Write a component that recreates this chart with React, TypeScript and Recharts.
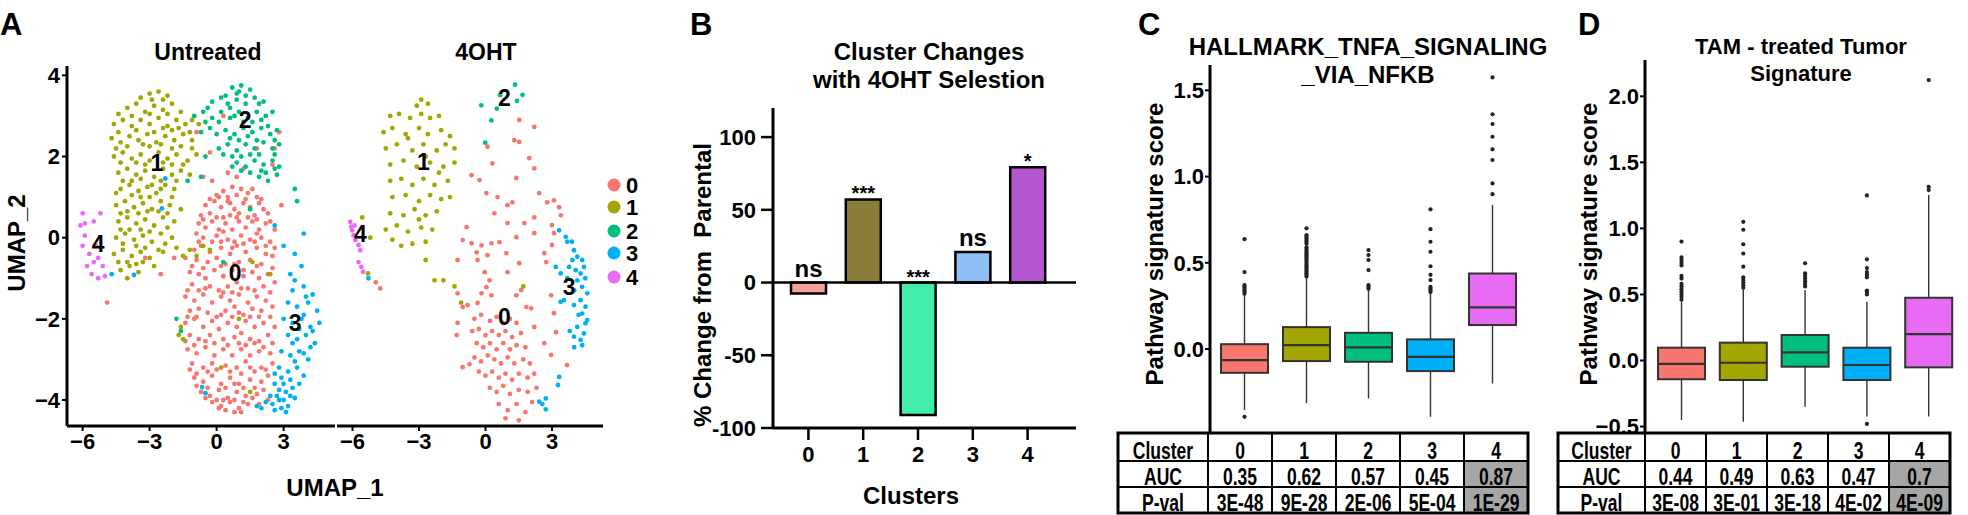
import React from 'react';
import {
  ScatterChart, Scatter, XAxis, YAxis, BarChart, Bar, Cell, LabelList,
  ReferenceLine, ComposedChart,
} from 'recharts';

// ---------- shared ----------
const clusterNames = ['0', '1', '2', '3', '4'];
const clusterColors = ['#F8766D', '#A3A500', '#00BF7D', '#00B0F6', '#E76BF3'];
const FONT = "'Liberation Sans', Arial, Helvetica, sans-serif";
const minus = (v: number | string) => String(v).replace('-', '\u2212');

// ---------- panel A: UMAP coordinates ----------
const untreated0 = [
  [0.3,1.15],[0.7,1.25],[1.1,1.2],[1.4,1.1],[0.0,1.05],[0.9,1.05],[1.8,1.0],[0.5,1.0],[1.6,1.2],
  [-0.3,0.95],[0.1,1.0],[0.6,0.85],[1.3,0.95],[2.0,0.95],
  [-0.5,0.8],[-0.1,0.9],[0.2,0.75],[0.5,0.9],[0.8,0.7],[1.2,0.85],[1.5,0.75],[1.9,0.85],[2.1,0.7],[-0.3,0.6],[0.6,0.55],[1.0,0.6],[1.7,0.55],[2.3,0.6],[-0.7,0.55],
  [-0.6,0.45],[0.0,0.5],[0.3,0.5],[0.9,0.5],[1.4,0.5],[1.8,0.45],[2.4,0.4],
  [-0.8,0.35],[-0.5,0.25],[-0.2,0.4],[0.1,0.2],[0.4,0.35],[0.7,0.2],[1.0,0.4],[1.3,0.25],[1.6,0.4],[1.9,0.2],[2.2,0.35],[-0.6,0.0],[0.0,0.05],[0.5,-0.05],[1.1,0.05],[1.5,-0.05],[2.0,0.0],[2.4,-0.1],[-0.9,0.1],[0.3,0.15],[0.8,-0.1],[1.8,0.1],[2.6,0.2],
  [-0.8,-0.1],[0.2,-0.1],[0.7,-0.25],[1.2,-0.15],[1.7,-0.1],[2.2,-0.2],[2.6,-0.25],
  [-1.0,-0.3],[-0.7,-0.2],[-0.3,-0.35],[0.2,-0.25],[0.6,-0.4],[0.9,-0.2],[1.3,-0.35],[1.8,-0.25],[2.2,-0.4],[-0.9,-0.55],[-0.4,-0.6],[0.0,-0.5],[0.4,-0.65],[1.0,-0.6],[1.5,-0.55],[2.0,-0.65],[2.5,-0.45],[-0.2,-0.1],[1.2,-0.8],
  [-1.1,-0.7],[-0.6,-0.75],[0.2,-0.7],[0.8,-0.65],[1.8,-0.7],[2.5,-0.75],
  [-1.2,-0.85],[-0.8,-0.9],[-0.5,-1.0],[-0.1,-0.8],[0.3,-0.95],[0.7,-0.8],[1.2,-0.95],[1.6,-0.85],[1.9,-1.0],[2.3,-0.9],[-1.1,-1.15],[-0.3,-1.2],[0.5,-1.2],[0.9,-1.1],[1.4,-1.25],[2.1,-1.2],[2.6,-1.1],[0.1,-1.3],
  [-1.3,-1.3],[-0.8,-1.3],[-0.5,-1.25],[0.3,-1.35],[0.7,-1.35],[1.1,-1.25],[1.7,-1.3],[2.4,-1.35],
  [-1.4,-1.45],[-1.0,-1.55],[-0.6,-1.4],[-0.2,-1.6],[0.2,-1.45],[0.6,-1.55],[1.0,-1.4],[1.4,-1.6],[1.8,-1.45],[2.2,-1.55],[-1.2,-1.8],[-0.4,-1.85],[0.4,-1.8],[1.2,-1.9],[2.0,-1.8],[-0.8,-1.75],[1.6,-1.75],[0.8,-1.7],[2.5,-1.7],[0.0,-1.95],
  [-1.3,-1.95],[-0.9,-1.95],[0.2,-1.9],[0.7,-1.95],[1.0,-1.85],[1.5,-1.95],[1.9,-1.95],[2.4,-1.95],
  [-1.4,-2.1],[-1.0,-2.0],[-0.6,-2.2],[-0.2,-2.05],[0.1,-2.25],[0.5,-2.1],[0.9,-2.2],[1.3,-2.05],[1.7,-2.2],[2.1,-2.1],[-1.2,-2.4],[-0.8,-2.5],[-0.3,-2.4],[0.3,-2.5],[0.8,-2.45],[1.5,-2.5],[2.3,-2.4],[1.9,-2.55],[1.1,-2.35],[-0.1,-2.6],[2.6,-2.2],
  [-1.4,-2.55],[-1.0,-2.65],[-0.5,-2.55],[0.5,-2.65],[1.0,-2.6],[1.3,-2.65],[1.7,-2.6],[2.1,-2.7],[2.5,-2.6],
  [-1.3,-2.75],[-0.9,-2.85],[-0.5,-2.7],[-0.1,-2.9],[0.3,-2.75],[0.7,-2.9],[1.1,-2.75],[1.5,-2.9],[1.9,-2.8],[2.4,-2.85],[-1.1,-3.1],[-0.6,-3.2],[-0.2,-3.1],[0.4,-3.15],[0.9,-3.2],[1.3,-3.05],[2.0,-3.2],[2.5,-3.1],[1.7,-3.3],[-0.9,-3.35],
  [-1.2,-3.25],[-0.4,-3.3],[0.0,-3.25],[0.6,-3.3],[1.1,-3.35],[1.5,-3.2],[2.2,-3.25],
  [-1.0,-3.45],[-0.6,-3.55],[-0.2,-3.4],[0.2,-3.6],[0.6,-3.45],[1.0,-3.6],[1.5,-3.5],[2.0,-3.55],[2.3,-3.4],[-0.7,-3.8],[-0.3,-3.9],[0.1,-3.75],[0.5,-3.95],[0.9,-3.8],[1.3,-3.9],[1.8,-3.85],[1.2,-3.7],
  [-0.9,-3.65],[-0.4,-3.7],[0.4,-3.7],[0.8,-3.6],[1.7,-3.7],[2.1,-3.75],
  [-0.5,-3.95],[0.0,-4.0],[0.3,-4.0],[0.8,-4.0],[1.2,-4.05],[1.6,-3.95],[1.1,-4.3],[0.1,-4.2],
  [-0.2,-4.05],[0.2,-4.15],[0.6,-4.05],[1.0,-4.2],[1.4,-4.1],[0.4,-4.25],[1.9,-4.1],[2.3,-4.0],[0.8,-4.3],
  [0.5,1.6],[1.8,2.2],[-0.3,2.1],[2.5,1.8],[0.3,3.0],[-1.4,-0.5],[-2.5,-0.9],[-3.2,-0.5],[-4.9,-1.6],[-1.9,-0.5],[2.8,2.6],[-0.6,1.5],[1.2,1.7],[2.6,2.2],[-0.9,2.6],[2.9,0.8],[0.9,1.5],[-0.2,1.4],
];
const untreated1 = [
  [-2.6,3.6],[-2.2,3.5],[-2.9,3.4],[-3.4,3.45],[-3.0,3.55],[-2.4,3.4],
  [-4.0,3.2],[-3.6,3.3],[-3.2,3.1],[-2.8,3.25],[-2.4,3.15],[-2.0,3.3],[-1.6,3.1],[-3.8,3.0],[-4.4,3.05],[-3.0,3.05],[-2.2,3.05],
  [-4.6,2.8],[-4.2,2.9],[-3.8,2.75],[-3.4,2.9],[-3.0,2.8],[-2.6,2.95],[-2.2,2.75],[-1.8,2.9],[-1.4,2.8],[-2.0,2.65],
  [-4.4,2.6],[-3.6,2.65],[-2.8,2.6],[-2.4,2.7],[-1.7,2.7],[-1.2,2.6],
  [-4.7,2.45],[-4.3,2.35],[-3.9,2.5],[-3.5,2.4],[-3.1,2.55],[-2.7,2.35],[-2.3,2.5],[-1.9,2.4],[-1.5,2.55],[-1.1,2.4],[-4.5,2.2],[-3.0,2.25],[-1.6,2.25],
  [-4.0,2.25],[-3.3,2.3],[-2.5,2.3],[-2.0,2.2],[-1.1,2.2],
  [-4.6,2.0],[-4.2,2.1],[-3.8,1.95],[-3.4,2.05],[-3.0,1.9],[-2.6,2.1],[-2.2,1.95],[-1.8,2.05],[-1.3,1.9],[-0.9,2.05],[-2.4,1.85],[-3.6,1.85],
  [-4.3,1.85],[-3.2,1.8],[-2.0,1.8],[-1.5,1.8],
  [-4.4,1.6],[-4.0,1.7],[-3.6,1.55],[-3.2,1.65],[-2.8,1.5],[-2.4,1.7],[-2.0,1.55],[-1.6,1.65],[-1.2,1.55],[-4.2,1.4],[-2.5,1.4],
  [-3.8,1.4],[-3.4,1.45],[-2.9,1.3],[-1.8,1.4],
  [-4.3,1.2],[-3.9,1.3],[-3.5,1.15],[-3.1,1.25],[-2.7,1.1],[-2.3,1.3],[-1.9,1.2],[-3.0,1.0],[-3.8,1.05],[-2.0,1.0],[-4.5,1.1],[-3.4,1.0],[-2.5,1.2],
  [-4.5,0.8],[-4.1,0.9],[-3.7,0.75],[-3.3,0.85],[-2.9,0.7],[-2.5,0.9],[-2.1,0.8],[-1.6,0.7],[-4.0,0.65],[-2.6,0.65],
  [-4.3,0.6],[-3.5,0.6],[-3.1,0.65],[-2.2,0.6],
  [-4.4,0.4],[-4.0,0.5],[-3.6,0.35],[-3.2,0.45],[-2.8,0.3],[-2.4,0.5],[-1.9,0.4],[-3.4,0.2],[-4.3,0.2],[-3.9,0.2],[-3.0,0.15],[-2.2,0.25],
  [-4.5,0.0],[-4.1,0.1],[-3.7,-0.05],[-3.3,0.05],[-2.9,-0.1],[-2.5,0.1],[-2.0,0.0],[-2.3,-0.15],[-3.6,-0.2],[-4.2,-0.15],[-3.2,-0.25],[-2.6,-0.3],
  [-4.6,-0.4],[-4.2,-0.3],[-3.8,-0.45],[-3.4,-0.35],[-3.0,-0.5],[-2.4,-0.35],[-1.8,-0.25],[-1.2,-0.3],[-0.6,-0.2],[-4.4,-0.6],[-2.8,-0.7],
  [-4.0,-0.6],[-3.6,-0.65],[-1.5,-0.45],[-0.9,-0.45],
  [-4.3,-0.8],[-3.9,-0.7],[-3.5,-0.85],[-3.3,-0.6],[-4.0,-1.0],
  [-1.6,-2.2],[-1.7,-2.4],[-1.5,-2.5],[1.0,-2.0],[1.6,-0.6],[-0.3,-0.3],[2.4,-0.9],[0.2,-3.2],[1.5,-3.8],[-1.1,2.9],[-0.8,2.8],
];
const untreated2 = [
  [0.7,3.7],[1.1,3.75],[1.5,3.65],[0.9,3.55],[1.3,3.5],[1.0,3.6],[0.4,3.5],
  [-0.2,3.35],[0.2,3.45],[0.5,3.3],[0.9,3.4],[1.3,3.3],[1.7,3.45],[2.1,3.35],[0.6,3.2],[1.9,3.3],[-0.4,3.2],
  [-1.0,3.0],[-0.6,3.1],[-0.2,2.95],[0.2,3.1],[0.6,2.95],[1.0,3.1],[1.4,2.95],[1.8,3.1],[2.2,3.0],[2.5,3.1],[0.1,2.85],[1.2,2.85],
  [0.8,3.0],[1.6,2.85],[2.0,2.9],[-0.5,2.85],
  [-0.7,2.6],[-0.3,2.7],[0.4,2.65],[0.8,2.55],[1.2,2.7],[1.6,2.6],[2.0,2.7],[2.4,2.55],[2.7,2.65],[2.3,2.75],
  [0.0,2.55],[0.6,2.45],[1.0,2.4],[1.4,2.5],[2.6,2.4],
  [0.1,2.2],[0.5,2.3],[0.9,2.15],[1.3,2.3],[1.7,2.2],[2.1,2.35],[2.5,2.2],[2.8,2.3],[1.8,2.4],[1.5,2.05],
  [0.3,2.05],[0.7,2.0],[1.1,2.0],[1.9,2.05],[2.6,2.05],
  [0.9,1.85],[1.3,1.75],[1.7,1.9],[2.1,1.8],[2.5,1.9],[2.8,1.75],[2.2,1.6],
  [1.1,1.65],[1.5,1.6],[2.0,1.65],[2.6,1.7],[0.7,1.75],
  [1.9,1.5],[2.3,1.4],[2.7,1.55],
  [-0.7,1.5],[-1.3,1.4],[3.5,1.2],[3.6,0.9],[-1.8,-2.0],[-1.6,-2.3],[0.3,-0.6],[-0.5,2.0],[1.5,0.7],
];
const untreated3 = [
  [3.9,0.1],[3.5,-0.4],[3.0,-0.2],[3.3,-0.9],[3.8,-0.7],[2.6,0.3],
  [3.4,-1.3],[3.9,-1.2],[4.3,-1.4],[3.2,-1.6],[3.6,-1.7],[4.1,-1.6],[4.5,-1.8],[3.5,-1.05],[4.0,-1.45],
  [3.0,-2.0],[3.4,-2.1],[3.8,-2.0],[4.2,-2.2],[4.6,-2.1],[3.2,-2.4],[3.6,-2.5],[4.0,-2.4],[4.4,-2.6],[3.9,-1.9],[4.3,-2.3],
  [3.7,-2.25],[4.2,-2.7],[3.4,-2.6],[3.9,-2.85],[3.5,-3.05],
  [2.9,-2.8],[3.3,-2.9],[3.7,-2.8],[4.1,-3.0],[2.8,-3.2],[3.2,-3.3],[3.6,-3.2],[3.9,-3.4],[2.9,-3.45],
  [2.6,-3.35],[3.3,-3.5],[2.8,-3.75],[2.4,-3.9],[3.5,-3.95],[2.6,-4.25],[2.0,-4.2],[3.1,-4.3],
  [2.6,-3.6],[3.0,-3.6],[3.4,-3.7],[3.7,-3.6],[2.7,-3.9],[3.0,-4.0],[3.3,-3.9],[2.5,-4.1],[2.9,-4.2],[3.2,-4.15],[2.2,-4.05],[1.8,-4.15],[2.8,-4.0],[3.1,-3.8],
  [-3.7,-0.92],[-4.7,-0.9],[-2.3,1.46],[-2.45,0.72],[-0.5,-3.83],[-0.65,-3.68],
];
const untreated4 = [
  [-6.0,0.6],[-6.1,0.3],[-5.9,0.05],[-6.0,-0.2],[-5.7,-0.4],[-5.5,-0.6],[-5.8,-0.7],[-5.3,-0.5],
  [-5.6,-0.9],[-5.3,-1.0],[-5.0,-0.95],[-5.5,0.4],[-5.2,0.6],[-5.9,0.35],[-5.4,-0.2],[-5.1,-0.7],
];
const treated0 = [
  [1.52,2.9],[2.2,2.73],[0.09,2.24],[1.3,2.4],[1.52,2.36],[1.97,1.96],[2.2,1.71],[0.31,1.83],[-0.63,1.54],[-0.27,1.42],
  [1.39,1.47],[0.04,1.1],[0.54,1.0],[0.99,0.8],[1.21,0.87],[2.42,1.1],[2.78,0.87],[3.09,0.92],[3.32,0.75],[3.4,0.55],
  [3.0,0.31],[3.09,0.11],[2.2,0.5],[1.75,0.36],[0.99,0.36],[0.4,0.6],[-0.85,0.26],[-1.03,-0.06],[-0.63,-0.14],[-0.18,-0.19],
  [0.27,-0.14],[0.63,-0.11],[1.39,0.01],[2.2,0.11],[-0.4,-0.36],[0.09,-0.43],[-0.36,-0.55],[-1.26,-0.55],[0.94,-0.38],[1.52,-0.63],
  [-0.04,-0.85],[0.18,-1.05],[0.99,-0.85],[2.65,-0.38],[2.74,-0.6],[3.0,-0.18],[2.96,-1.42],[3.09,-1.86],[1.84,-1.71],[2.06,-1.74],
  [-0.81,-1.66],[-1.03,-1.71],[-1.26,-1.37],[-0.18,-1.37],[0.27,-1.42],[0.04,-1.22],[-0.36,-1.61],[1.39,-1.42],[1.61,-1.29],[-1.26,-2.1],
  [-1.3,-2.4],[2.2,-2.2],[2.65,-2.6],[2.96,-2.89],[3.18,-2.33],[3.68,-3.14],[-1.03,-3.19],[-0.72,-3.12],
  [-0.5,-2.0],[-0.2,-1.9],[0.2,-2.05],[0.5,-1.95],[0.8,-2.1],[1.1,-2.0],[1.4,-2.1],
  [-0.6,-2.3],[-0.3,-2.25],[0.0,-2.4],[0.3,-2.3],[0.6,-2.4],[0.9,-2.3],[1.2,-2.45],[1.6,-2.35],
  [-0.4,-2.6],[-0.1,-2.7],[0.2,-2.6],[0.5,-2.75],[0.8,-2.6],[1.1,-2.75],[1.4,-2.65],[1.8,-2.7],
  [-0.5,-2.95],[-0.2,-3.05],[0.1,-2.9],[0.4,-3.0],[0.7,-3.1],[1.0,-2.95],[1.3,-3.1],[1.7,-3.0],[2.0,-3.1],
  [-0.3,-3.3],[0.0,-3.4],[0.3,-3.3],[0.6,-3.45],[0.9,-3.35],[1.2,-3.5],[1.5,-3.35],[1.9,-3.45],[2.2,-3.35],
  [0.2,-3.7],[0.5,-3.8],[0.8,-3.65],[1.1,-3.85],[1.5,-3.75],[1.9,-3.8],[2.3,-3.7],
  [0.6,-4.1],[1.0,-4.25],[1.4,-4.1],[1.8,-4.3],[2.1,-4.05],[0.9,-4.45],[1.5,-4.5],
  [-4.75,-1.25],[-4.95,-1.1],
];
const treated1 = [
  [-2.9,3.4],[-2.6,3.3],[-3.1,3.25],
  [-4.3,3.0],[-3.9,3.05],[-3.4,2.95],[-2.9,3.05],[-2.5,2.95],[-2.1,3.0],
  [-4.6,2.6],[-4.2,2.7],[-3.6,2.55],[-3.0,2.7],[-2.6,2.55],[-2.0,2.65],[-1.6,2.5],[-3.5,2.45],
  [-4.5,2.2],[-4.0,2.3],[-3.3,2.15],[-2.8,2.3],[-2.2,2.15],[-1.8,2.3],[-1.4,2.2],[-2.7,2.0],
  [-4.3,1.8],[-3.7,1.9],[-3.1,1.75],[-2.5,1.85],[-1.9,1.75],[-1.4,1.85],[-2.1,1.6],
  [-4.3,1.4],[-3.8,1.45],[-3.3,1.3],[-2.8,1.45],[-2.3,1.3],[-1.7,1.4],
  [-4.2,1.0],[-3.6,1.05],[-3.0,0.9],[-2.5,1.05],[-2.0,0.95],[-1.6,1.0],
  [-4.3,0.6],[-3.7,0.55],[-3.2,0.7],[-2.7,0.55],[-2.2,0.65],[-3.0,0.45],
  [-4.5,0.2],[-4.0,0.3],[-3.5,0.15],[-2.9,0.25],[-2.4,0.2],
  [-3.8,-0.2],[-3.3,-0.15],[-2.7,-0.1],[-4.2,-0.05],
  [-2.7,-0.55],[-2.3,-1.05],[-1.4,-1.2],[-1.9,-1.05],[-1.1,-1.6],[1.7,-1.2],
  [-5.56,0.5],[-5.2,0.0],[-5.3,-0.88],
];
const treated2 = [
  [-0.19,3.26],[0.26,2.89],[0.51,3.18],[0.66,3.51],[1.33,3.77],[1.42,3.37],[1.67,3.52],[-0.01,2.34],
];
const treated3 = [
  [3.32,0.18],[3.62,0.02],[3.69,-0.1],[3.99,-0.31],[3.92,-0.55],[4.14,-0.47],[4.36,-0.55],[3.77,-0.72],[4.07,-0.8],[4.29,-0.88],
  [4.44,-0.72],[3.17,-0.72],[3.39,-0.88],[3.69,-1.0],[4.14,-1.05],[4.36,-1.21],[4.59,-1.37],[4.29,-1.54],[3.99,-1.66],[4.51,-1.7],
  [4.36,-1.87],[4.59,-2.03],[4.14,-2.2],[4.44,-2.36],[4.29,-2.52],[4.36,-2.65],[3.99,-2.44],[3.54,-1.54],[3.39,-1.58],[4.51,-2.11],
  [4.0,-1.3],[4.2,-1.9],[3.8,-2.3],[4.5,-1.0],[4.0,-2.7],[3.9,-0.1],
  [3.32,-3.43],[3.27,-3.63],[2.42,-4.04],[2.56,-4.1],[2.72,-3.96],[2.72,-4.23],[-5.28,-1.0],
];
const treated4 = [
  [-6.1,0.39],[-6.02,0.18],[-5.95,0.06],[-5.87,-0.06],[-5.73,-0.18],[-5.65,-0.31],[-5.73,-0.6],[-5.6,-0.72],[-5.53,-0.84],[-6.06,0.27],[-5.91,0.3],
];
const untreatedLabels = [
  { x: 0.83, y: -0.88, t: '0' }, { x: -2.68, y: 1.83, t: '1' }, { x: 1.28, y: 2.9, t: '2' },
  { x: 3.52, y: -2.1, t: '3' }, { x: -5.3, y: -0.15, t: '4' },
];
const treatedLabels = [
  { x: 0.85, y: -1.96, t: '0' }, { x: -2.8, y: 1.86, t: '1' }, { x: 0.85, y: 3.43, t: '2' },
  { x: 3.77, y: -1.22, t: '3' }, { x: -5.65, y: 0.1, t: '4' },
];

// ---------- panel B ----------
const bValues = [-7.5, 57.1, -91, 21, 79.3];
const bColors = ['#F4A19B', '#8C7C39', '#43EEAA', '#90BEF6', '#B556D3'];
const bSig = ['ns', '***', '***', 'ns', '*'];

// ---------- panel C (HALLMARK TNFA) ----------
const cLow = [-0.354, -0.314, -0.287, -0.393, -0.2];
const cQ1 = [-0.138, -0.07, -0.074, -0.128, 0.139];
const cMed = [-0.064, 0.023, 0.009, -0.045, 0.241];
const cQ3 = [0.028, 0.127, 0.094, 0.056, 0.438];
const cHigh = [0.31, 0.41, 0.342, 0.324, 0.835];
const cOutliers = [
  [0.32, 0.33, 0.34, 0.35, 0.36, 0.37, 0.446, 0.637, -0.393],
  [0.42, 0.43, 0.44, 0.45, 0.46, 0.47, 0.48, 0.49, 0.50, 0.51, 0.52, 0.53, 0.54, 0.55, 0.56, 0.57, 0.58, 0.59, 0.61, 0.62, 0.63, 0.64, 0.65, 0.66, 0.70],
  [0.35, 0.36, 0.37, 0.458, 0.516, 0.545, 0.574],
  [0.33, 0.34, 0.35, 0.36, 0.40, 0.43, 0.48, 0.564, 0.622, 0.695, 0.81],
  [0.898, 0.96, 1.096, 1.158, 1.231, 1.305, 1.361, 1.575],
];
const cAuc = ['0.35', '0.62', '0.57', '0.45', '0.87'];
const cPval = ['3E-48', '9E-28', '2E-06', '5E-04', '1E-29'];

// ---------- panel D (TAM-treated tumor) ----------
const dLow = [-0.45, -0.463, -0.35, -0.425, -0.425];
const dQ1 = [-0.142, -0.148, -0.047, -0.148, -0.052];
const dMed = [-0.026, -0.017, 0.062, -0.034, 0.2];
const dQ3 = [0.097, 0.135, 0.193, 0.097, 0.475];
const dHigh = [0.445, 0.534, 0.534, 0.445, 1.253];
const dOutliers = [
  [0.46, 0.48, 0.50, 0.52, 0.54, 0.56, 0.58, 0.62, 0.64, 0.72, 0.74, 0.76, 0.78, 0.90],
  [0.55, 0.57, 0.59, 0.61, 0.63, 0.71, 0.81, 0.88, 0.99, 1.05],
  [0.56, 0.58, 0.60, 0.62, 0.64, 0.66, 0.736],
  [0.50, 0.52, 0.53, 0.63, 0.65, 0.67, 0.70, 0.766, 1.25, -0.48],
  [1.29, 1.315, 2.123],
];
const dAuc = ['0.44', '0.49', '0.63', '0.47', '0.7'];
const dPval = ['3E-08', '3E-01', '3E-18', '4E-02', '4E-09'];

const toPts = (arr: number[][]) => arr.map(([x, y]) => ({ x, y }));
const boxData = (lo: number[], q1: number[], med: number[], q3: number[], hi: number[], out: number[][]) =>
  clusterNames.map((c, i) => ({ c, lo: lo[i], q1: q1[i], med: med[i], q3: q3[i], hi: hi[i], out: out[i], color: clusterColors[i] }));

const tickStyle = { fontSize: 22, fontWeight: 'bold', fill: '#000' } as any;
const axisLine = { stroke: '#000', strokeWidth: 3 };
const tickLine = { stroke: '#000', strokeWidth: 2 };

const dot = (color: string) => (p: any) => <circle cx={p.cx} cy={p.cy} r={2.4} fill={color} />;
const labelShape = (p: any) => (
  <text x={p.cx} y={p.cy} textAnchor="middle" dominantBaseline="central" fontSize={23} fontWeight="bold" fill="#000">
    {p.payload.t}
  </text>
);

function UmapFacet({ left, width, showY, groups, labels, marginLeft, marginRight }: any) {
  return (
    <div style={{ position: 'absolute', left, top: 0 }}>
      <ScatterChart width={width} height={515} margin={{ top: 66, right: marginRight, bottom: 59, left: marginLeft }}>
        <XAxis type="number" dataKey="x" domain={[-6.7, 5.3]} ticks={[-6, -3, 0, 3]} allowDataOverflow
          axisLine={axisLine} tickLine={tickLine} tickSize={5} tickMargin={2} tick={tickStyle} tickFormatter={minus} height={30} />
        <YAxis type="number" dataKey="y" domain={[-4.64, 4.23]} ticks={[-4, -2, 0, 2, 4]} allowDataOverflow hide={!showY}
          axisLine={axisLine} tickLine={tickLine} tickSize={5} tickMargin={2} tick={tickStyle} tickFormatter={minus} width={60} />
        {groups.map((g: number[][], i: number) => (
          <Scatter key={i} data={toPts(g)} shape={dot(clusterColors[i])} isAnimationActive={false} />
        ))}
        <Scatter data={labels} shape={labelShape} isAnimationActive={false} />
      </ScatterChart>
    </div>
  );
}

const BoxShape = (p: any) => {
  const { x, y, width, height, payload } = p;
  const top = Math.min(y, y + height);
  const bot = Math.max(y, y + height);
  const { lo, hi, q1, q3, med, out, color } = payload;
  const py = (v: number) => top + ((hi - v) / (hi - lo)) * (bot - top);
  const cx = x + width / 2;
  return (
    <g>
      <line x1={cx} x2={cx} y1={py(hi)} y2={py(q3)} stroke="#333" strokeWidth={1.4} />
      <line x1={cx} x2={cx} y1={py(q1)} y2={py(lo)} stroke="#333" strokeWidth={1.4} />
      <rect x={x} y={py(q3)} width={width} height={py(q1) - py(q3)} fill={color} stroke="#333" strokeWidth={2} />
      <line x1={x} x2={x + width} y1={py(med)} y2={py(med)} stroke="#333" strokeWidth={2.2} />
      {out.map((v: number, i: number) => <circle key={i} cx={cx} cy={py(v)} r={2.1} fill="#222" />)}
    </g>
  );
};

function BoxPanel({ left, width, data, domain, ticks, marginLeft, top, barSize, padding }: any) {
  return (
    <div style={{ position: 'absolute', left, top: 0 }}>
      <ComposedChart width={width} height={515} data={data} margin={{ top, right: 2, bottom: 82, left: marginLeft }}>
        <XAxis dataKey="c" hide padding={padding} />
        <YAxis domain={domain} ticks={ticks} allowDataOverflow width={60} axisLine={axisLine} tickLine={tickLine}
          tickSize={5} tickMargin={1} tick={tickStyle} tickFormatter={(v: number) => minus(Number(v).toFixed(1))} />
        <Bar dataKey={(d: any) => [d.lo, d.hi]} barSize={barSize} shape={BoxShape} isAnimationActive={false} />
      </ComposedChart>
    </div>
  );
}

function StatTable({ x0, labelW, colW, auc, pval }: any) {
  const rows = [433, 461, 487, 513];
  const right = x0 + labelW + colW * 5;
  const cells = [['Cluster', ...clusterNames], ['AUC', ...auc], ['P-val', ...pval]];
  const colX = (j: number) => (j === 0 ? x0 + labelW / 2 : x0 + labelW + colW * (j - 1) + colW / 2);
  return (
    <g>
      <rect x={x0 + labelW + colW * 4} y={rows[1]} width={colW} height={rows[3] - rows[1]} fill="#A6A6A6" />
      {[1, 2].map((r) => <line key={r} x1={x0} x2={right} y1={rows[r]} y2={rows[r]} stroke="#000" strokeWidth={2} />)}
      {[0, 1, 2, 3, 4].map((j) => {
        const xx = x0 + labelW + colW * j;
        return <line key={j} x1={xx} x2={xx} y1={rows[0]} y2={rows[3]} stroke="#000" strokeWidth={2} />;
      })}
      <rect x={x0} y={rows[0]} width={right - x0} height={rows[3] - rows[0]} fill="none" stroke="#000" strokeWidth={3} />
      {cells.map((row, r) => row.map((t, j) => (
        <text key={`${r}-${j}`} transform={`translate(${colX(j)},${rows[r + 1] - 2}) scale(0.73,1)`}
          textAnchor="middle" fontSize={24} fontWeight="bold" fill="#000">{t}</text>
      )))}
    </g>
  );
}

const BarSig = (p: any) => {
  const { x, y, width, height, index } = p;
  const top = Math.min(y, y + height);
  const s = bSig[index];
  const isStar = s.startsWith('*');
  return (
    <text x={x + width / 2} y={isStar ? top + 1 : top - 6} textAnchor="middle" fontSize={isStar ? 20 : 24} fontWeight="bold" fill="#000">
      {s}
    </text>
  );
};

export default function App() {
  const bData = clusterNames.map((c, i) => ({ c, v: bValues[i] }));
  const cData = boxData(cLow, cQ1, cMed, cQ3, cHigh, cOutliers);
  const dData = boxData(dLow, dQ1, dMed, dQ3, dHigh, dOutliers);
  const txt = { fontWeight: 'bold', fill: '#000' } as any;
  const legendY = [185, 207, 231, 253, 277];

  return (
    <div style={{ position: 'absolute', left: 0, top: 0, width: 1968, height: 515, background: '#fff', overflow: 'hidden', fontFamily: FONT }}>
      {/* A */}
      <UmapFacet left={0} width={340} showY groups={[untreated0, untreated1, untreated2, untreated3, untreated4]}
        labels={untreatedLabels} marginLeft={7} marginRight={5} />
      <UmapFacet left={330} width={276} showY={false} groups={[treated0, treated1, treated2, treated3, treated4]}
        labels={treatedLabels} marginLeft={7} marginRight={3} />

      {/* B */}
      <div style={{ position: 'absolute', left: 680, top: 0 }}>
        <BarChart width={400} height={515} data={bData} margin={{ top: 108, right: 4, bottom: 47, left: 13 }}>
          <XAxis dataKey="c" padding={{ left: 8, right: 21 }} height={40} axisLine={axisLine}
            tickLine={{ stroke: '#000', strokeWidth: 2.5 }} tickSize={12} tickMargin={6} tick={tickStyle} />
          <YAxis domain={[-100, 120]} ticks={[-100, -50, 0, 50, 100]} allowDataOverflow width={80} axisLine={axisLine}
            tickLine={{ stroke: '#000', strokeWidth: 2.5 }} tickSize={12} tickMargin={5} tick={tickStyle} />
          <ReferenceLine y={0} stroke="#000" strokeWidth={2.5} />
          <Bar dataKey="v" barSize={35} stroke="#000" strokeWidth={2.5} isAnimationActive={false}>
            {bData.map((_, i) => <Cell key={i} fill={bColors[i]} />)}
            <LabelList dataKey="v" content={BarSig} />
          </Bar>
        </BarChart>
      </div>

      {/* C, D */}
      <BoxPanel left={1120} width={410} data={cData} domain={[-0.487, 1.647]} ticks={[0, 0.5, 1, 1.5]}
        marginLeft={30} top={65} barSize={47} padding={{ left: 3, right: 5 }} />
      <BoxPanel left={1560} width={405} data={dData} domain={[-0.549, 2.275]} ticks={[-0.5, 0, 0.5, 1, 1.5, 2]}
        marginLeft={25} top={60} barSize={47} padding={{ left: 6, right: 3 }} />

      <svg width={1968} height={515} style={{ position: 'absolute', left: 0, top: 0, pointerEvents: 'none' }}>
        {/* panel letters */}
        <text x={0} y={35} fontSize={31} {...txt}>A</text>
        <text x={690} y={35} fontSize={31} {...txt}>B</text>
        <text x={1138} y={35} fontSize={31} {...txt}>C</text>
        <text x={1578} y={35} fontSize={31} {...txt}>D</text>

        {/* A texts */}
        <text x={208} y={60} fontSize={23} textAnchor="middle" {...txt}>Untreated</text>
        <text x={486} y={60} fontSize={23} textAnchor="middle" {...txt}>4OHT</text>
        <text x={335} y={487} fontSize={24} textAnchor="middle" dominantBaseline="central" {...txt}>UMAP_1</text>
        <text x={16} y={243} fontSize={24} textAnchor="middle" dominantBaseline="central" transform="rotate(-90 16 243)" {...txt}>UMAP_2</text>
        {clusterNames.map((c, i) => (
          <g key={c}>
            <circle cx={614} cy={legendY[i]} r={6.5} fill={clusterColors[i]} />
            <text x={626} y={legendY[i]} fontSize={22} dominantBaseline="central" {...txt}>{c}</text>
          </g>
        ))}

        {/* B texts */}
        <text x={929} y={60} fontSize={24} textAnchor="middle" {...txt}>Cluster Changes</text>
        <text x={929} y={88} fontSize={24} textAnchor="middle" {...txt}>with 4OHT Selestion</text>
        <text x={702} y={285} fontSize={24} textAnchor="middle" dominantBaseline="central" transform="rotate(-90 702 285)" {...txt}>
          {'% Change from\u00a0 Parental'}
        </text>
        <text x={911} y={495} fontSize={24} textAnchor="middle" dominantBaseline="central" {...txt}>Clusters</text>

        {/* C texts */}
        <text x={1368} y={55} fontSize={24} textAnchor="middle" {...txt}>HALLMARK_TNFA_SIGNALING</text>
        <text x={1368} y={83} fontSize={24} textAnchor="middle" {...txt}>_VIA_NFKB</text>
        <text x={1154} y={244} fontSize={24} textAnchor="middle" dominantBaseline="central" transform="rotate(-90 1154 244)" {...txt}>Pathway signature score</text>
        <StatTable x0={1118} labelW={90} colW={64} auc={cAuc} pval={cPval} />

        {/* D texts */}
        <text x={1801} y={54} fontSize={22} textAnchor="middle" {...txt}>TAM - treated Tumor</text>
        <text x={1801} y={81} fontSize={22} textAnchor="middle" {...txt}>Signature</text>
        <text x={1588} y={244} fontSize={24} textAnchor="middle" dominantBaseline="central" transform="rotate(-90 1588 244)" {...txt}>Pathway signature score</text>
        <StatTable x0={1558} labelW={87} colW={61} auc={dAuc} pval={dPval} />
      </svg>
    </div>
  );
}
